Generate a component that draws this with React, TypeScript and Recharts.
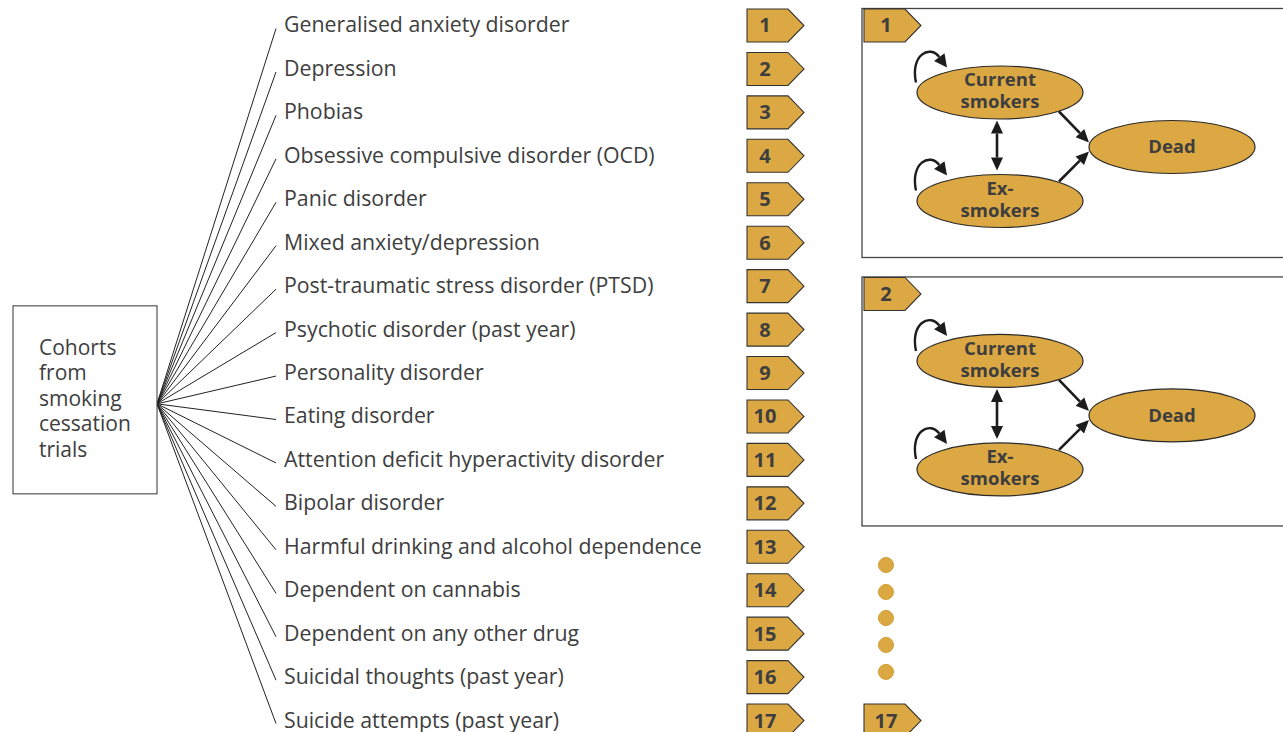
import React from "react"
import { ScatterChart, Scatter, XAxis, YAxis } from "recharts"

// Rows of the fan: one mental-health condition per row
const conditions = [
  "Generalised anxiety disorder",
  "Depression",
  "Phobias",
  "Obsessive compulsive disorder (OCD)",
  "Panic disorder",
  "Mixed anxiety/depression",
  "Post-traumatic stress disorder (PTSD)",
  "Psychotic disorder (past year)",
  "Personality disorder",
  "Eating disorder",
  "Attention deficit hyperactivity disorder",
  "Bipolar disorder",
  "Harmful drinking and alcohol dependence",
  "Dependent on cannabis",
  "Dependent on any other drug",
  "Suicidal thoughts (past year)",
  "Suicide attempts (past year)",
]
const cohortText = ["Cohorts", "from", "smoking", "cessation", "trials"]
const cohortRow = 8.71

// Model panels on the right (row of their badge)
const panelLabels = ["1", "2"]
const panelRows = [0, 6.18]
const lastPanelLabel = "17"
const lastPanelRow = 16
const ellipsisRows = [12.42, 13.04, 13.64, 14.26, 14.88]
const stateNames = { current: ["Current", "smokers"], ex: ["Ex-", "smokers"], dead: ["Dead"] }

const GOLD = "#DBA843"
const INK = "#3e3e3e"
const FONT = "'Open Sans', 'Noto Sans', sans-serif"

const FAN_X = 157
const LINE_END_X = 276
const LABEL_X = 284
const BADGE_X = 747
const PANEL_X = 864
const DOT_X = 886

const labelData = conditions.map((name, i) => ({ x: LABEL_X, y: i, name }))
const badgeData = conditions.map((_, i) => ({ x: BADGE_X, y: i, label: String(i + 1) }))
const panelData = panelLabels.map((label, i) => ({ x: PANEL_X, y: panelRows[i], label }))
const lastPanelData = [{ x: PANEL_X, y: lastPanelRow, label: lastPanelLabel }]
const dotData = ellipsisRows.map((r) => ({ x: DOT_X, y: r }))
const cohortData = [{ x: FAN_X, y: cohortRow }]

const headPoints = (x1: number, y1: number, x2: number, y2: number, len = 13, w = 12) => {
  const a = Math.atan2(y2 - y1, x2 - x1)
  const bx = x2 - len * Math.cos(a)
  const by = y2 - len * Math.sin(a)
  const px = (-Math.sin(a) * w) / 2
  const py = (Math.cos(a) * w) / 2
  return { pts: `${x2},${y2} ${bx + px},${by + py} ${bx - px},${by - py}`, bx, by }
}

const Arrow = ({ x1, y1, x2, y2, both = false }: any) => {
  const h = headPoints(x1, y1, x2, y2)
  const t = both ? headPoints(x2, y2, x1, y1) : null
  return (
    <g>
      <line x1={t ? t.bx : x1} y1={t ? t.by : y1} x2={h.bx} y2={h.by} stroke="#1c1c1c" strokeWidth={2.6} />
      <polygon points={h.pts} fill="#1c1c1c" />
      {t && <polygon points={t.pts} fill="#1c1c1c" />}
    </g>
  )
}

const Loop = ({ sx, sy }: any) => {
  const c1x = sx - 6, c1y = sy - 28
  const c2x = sx + 14, c2y = sy - 38
  const tx = sx + 31, ty = sy - 15
  const h = headPoints(c2x, c2y, tx, ty, 13, 13)
  return (
    <g>
      <path d={`M${sx},${sy} C${c1x},${c1y} ${c2x},${c2y} ${h.bx},${h.by}`} fill="none" stroke="#1c1c1c" strokeWidth={2.4} />
      <polygon points={h.pts} fill="#1c1c1c" />
    </g>
  )
}

const State = ({ cx, cy, lines }: any) => (
  <g>
    <ellipse cx={cx} cy={cy} rx={83} ry={26.5} fill={GOLD} stroke="#2a2a2a" strokeWidth={1.2} />
    {lines.map((t: string, i: number) => (
      <text key={t} x={cx} y={cy + (lines.length === 1 ? 6.5 : -6 + i * 22)} textAnchor="middle"
        fontFamily={FONT} fontWeight={700} fontSize={18.5} fill={INK}>{t}</text>
    ))}
  </g>
)

const Badge = ({ x, y, label, textDx }: any) => (
  <g>
    <polygon points={`${x},${y - 16.5} ${x + 41},${y - 16.5} ${x + 57},${y} ${x + 41},${y + 16.5} ${x},${y + 16.5}`}
      fill={GOLD} stroke="#333" strokeWidth={1.1} />
    <text x={x + textDx} y={y + 7} textAnchor="middle" fontFamily={FONT} fontWeight={700} fontSize={20} fill={INK}>{label}</text>
  </g>
)

const CohortShape = (p: any) => {
  const { cx, cy } = p
  return (
    <g>
      <rect x={cx - 144} y={cy - 98} width={144} height={188} fill="#fff" stroke="#333" strokeWidth={1} />
      {cohortText.map((t, i) => (
        <text key={t} x={cx - 118} y={cy - 49 + i * 25.5} fontFamily={FONT} fontSize={21} fill={INK}>{t}</text>
      ))}
    </g>
  )
}

const LabelShape = (p: any) => (
  <text x={p.cx} y={p.cy + 7} fontFamily={FONT} fontSize={21.3} fill={INK}>{p.payload.name}</text>
)

const BadgeShape = (p: any) => <Badge x={p.cx} y={p.cy} label={p.payload.label} textDx={18} />
const LastPanelShape = (p: any) => <Badge x={p.cx} y={p.cy} label={p.payload.label} textDx={22} />

const PanelShape = (p: any) => {
  const bx = p.cx
  const by = p.cy
  return (
    <g>
      <rect x={bx - 2} y={by - 17} width={440} height={249} fill="#fff" stroke="#444" strokeWidth={1.3} />
      <Badge x={bx} y={by} label={p.payload.label} textDx={22} />
      <Loop sx={bx + 52} sy={by + 57} />
      <Loop sx={bx + 52} sy={by + 165} />
      <Arrow x1={bx + 133} y1={by + 95} x2={bx + 133} y2={by + 145} both />
      <Arrow x1={bx + 195} y1={by + 86} x2={bx + 225} y2={by + 117} />
      <Arrow x1={bx + 195} y1={by + 156} x2={bx + 225} y2={by + 126} />
      <State cx={bx + 136} cy={by + 67} lines={stateNames.current} />
      <State cx={bx + 136} cy={by + 175.5} lines={stateNames.ex} />
      <State cx={bx + 308} cy={by + 121.5} lines={stateNames.dead} />
    </g>
  )
}

const DotShape = (p: any) => <circle cx={p.cx} cy={p.cy} r={7.5} fill={GOLD} stroke="#D19D2E" strokeWidth={1} />
const NoShape = () => <g />

const App = () => {
  return (
    <div style={{ position: "absolute", left: 0, top: 0 }}>
      <ScatterChart width={1283} height={732} margin={{ top: 0, right: 0, bottom: 0, left: 0 }}>
        <XAxis type="number" dataKey="x" domain={[0, 1283]} hide allowDataOverflow />
        <YAxis type="number" dataKey="y" domain={[-0.587, 16.264]} reversed hide allowDataOverflow />
        {conditions.map((name, i) => (
          <Scatter
            key={name}
            data={[{ x: FAN_X, y: cohortRow }, { x: LINE_END_X, y: i + 0.07 }]}
            line={{ stroke: "#222", strokeWidth: 1 }}
            shape={NoShape}
            isAnimationActive={false}
          />
        ))}
        <Scatter data={cohortData} shape={CohortShape} isAnimationActive={false} />
        <Scatter data={labelData} shape={LabelShape} isAnimationActive={false} />
        <Scatter data={badgeData} shape={BadgeShape} isAnimationActive={false} />
        <Scatter data={panelData} shape={PanelShape} isAnimationActive={false} />
        <Scatter data={dotData} shape={DotShape} isAnimationActive={false} />
        <Scatter data={lastPanelData} shape={LastPanelShape} isAnimationActive={false} />
      </ScatterChart>
    </div>
  )
}

export default App
